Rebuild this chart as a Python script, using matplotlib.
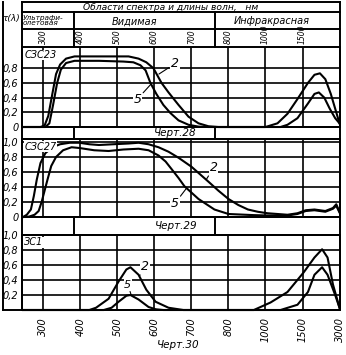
import numpy as np
import matplotlib
matplotlib.use("Agg")
import matplotlib.pyplot as plt

plt.rcParams['font.family'] = 'DejaVu Sans'
plt.rcParams['font.style'] = 'italic'

# ось длин волн (нм), шкала неравномерная
wl_ticks = [300, 400, 500, 600, 700, 800, 1000, 1500, 3000]
wl_labels = ['300', '400', '500', '600', '700', '800', '1000', '1500', '3000']

# Черт.28 - СЗС23
wl23_2 = [245, 292, 303, 313, 324, 334, 345, 361, 384, 450, 530, 557, 578, 597, 619, 638, 665, 692,
          719, 746, 773, 1000, 1162, 1297, 1432, 1721, 1985, 2206, 2426, 2647, 2824, 3000]
t23_2 = [0, 0, 0.02, 0.15, 0.45, 0.72, 0.85, 0.93, 0.96, 0.96, 0.96, 0.93, 0.88, 0.80, 0.60, 0.47, 0.30, 0.14,
         0.05, 0.01, 0, 0, 0.05, 0.18, 0.38, 0.60, 0.71, 0.73, 0.65, 0.45, 0.25, 0.05]
wl23_5 = [245, 305, 316, 326, 337, 347, 361, 384, 450, 516, 543, 562, 576, 589, 605, 624, 643, 665, 692,
          719, 746, 1203, 1297, 1432, 1721, 1985, 2162, 2382, 2603, 2824, 3000]
t23_5 = [0, 0, 0.05, 0.3, 0.6, 0.78, 0.87, 0.9, 0.9, 0.89, 0.88, 0.84, 0.77, 0.6, 0.45, 0.3, 0.19, 0.09, 0.03,
         0.005, 0, 0, 0.03, 0.12, 0.32, 0.45, 0.47, 0.4, 0.25, 0.12, 0.05]

# Черт.29 - СЗС27
wl27_2 = [245, 255, 266, 274, 282, 292, 305, 324, 345, 371, 397, 424, 450, 489, 530, 557, 584, 611, 638, 665,
          700, 746, 773, 800, 853, 905, 958, 1027, 1297, 1432, 1632, 1985, 2426, 2735, 2868, 3000]
t27_2 = [0, 0.03, 0.1, 0.28, 0.5, 0.72, 0.85, 0.93, 0.97, 0.99, 0.99, 0.97, 0.96, 0.97, 0.98, 0.99, 0.97, 0.93,
         0.87, 0.79, 0.67, 0.47, 0.35, 0.24, 0.16, 0.10, 0.07, 0.05, 0.03, 0.05, 0.09, 0.10, 0.08, 0.12, 0.17, 0.07]
wl27_5 = [245, 261, 276, 287, 295, 303, 311, 321, 334, 353, 376, 397, 437, 476, 516, 557, 584, 611, 630, 646,
          665, 681, 719, 762, 800, 937, 1027, 1297, 1432, 1632, 1985, 2426, 2735, 2868, 3000]
t27_5 = [0, 0.005, 0.03, 0.08, 0.2, 0.35, 0.5, 0.68, 0.8, 0.89, 0.93, 0.92, 0.89, 0.88, 0.9, 0.91, 0.89, 0.82,
         0.74, 0.64, 0.52, 0.41, 0.24, 0.1, 0.04, 0.025, 0.02, 0.02, 0.04, 0.08, 0.09, 0.07, 0.11, 0.15, 0.06]

# Черт.30 - ЗС1
wl1_2 = [245, 424, 442, 476, 503, 524, 535, 557, 578, 603, 638, 678, 937, 1068, 1297, 1544, 1985, 2294,
         2515, 2735, 3000]
t1_2 = [0, 0, 0.03, 0.15, 0.38, 0.54, 0.57, 0.47, 0.27, 0.11, 0.03, 0, 0, 0.1, 0.24, 0.5, 0.7, 0.81,
        0.7, 0.34, 0.03]
wl1_5 = [245, 463, 484, 503, 524, 535, 557, 584, 603, 624, 1203, 1432, 1721, 1985, 2294, 2515, 2824, 3000]
t1_5 = [0, 0, 0.03, 0.11, 0.19, 0.2, 0.14, 0.04, 0.01, 0, 0, 0.07, 0.24, 0.47, 0.57, 0.47, 0.2, 0.03]

W, H = 346, 355
fig = plt.figure(figsize=(W / 100, H / 100), dpi=100)
LW = 1.4


def rect(x0, y0, x1, y1):
    # пиксели -> доли фигуры
    return [x0 / W, 1 - y1 / H, (x1 - x0) / W, (y1 - y0) / H]


_sw = [200, 300, 400, 500, 600, 700, 800, 1000, 1500, 3000, 4500]
_si = [-1, 0, 1, 2, 3, 4, 5, 6, 7, 8, 9]


def fwd(x):
    return np.interp(x, _sw, _si)


def inv(x):
    return np.interp(x, _si, _sw)


# рамка таблицы
ax0 = fig.add_axes([0, 0, 1, 1])
ax0.set_xlim(0, W)
ax0.set_ylim(H, 0)
ax0.axis('off')
for y, x0, x1 in [(2, 22, 340), (12, 22, 340), (29, 22, 340), (127, 22, 340), (139, 22, 340),
                  (217, 22, 340), (235, 22, 340), (310, 3, 340)]:
    ax0.plot([x0, x1], [y, y], color='k', lw=LW)
for x, y0, y1 in [(3, 2, 310), (22, 2, 310), (340, 2, 310), (74, 12, 47), (215, 12, 47),
                  (74, 127, 139), (215, 127, 139), (74, 217, 235), (215, 217, 235)]:
    ax0.plot([x, x], [y0, y1], color='k', lw=LW)

ax0.text(171, 10, 'Области спектра и длины волн,   нм', ha='center', va='baseline', fontsize=6.6)
ax0.text(23, 20.5, 'Ультрафи-\nолетовая', ha='left', va='center', fontsize=5.3, linespacing=0.85)
ax0.text(134, 24.5, 'Видимая', ha='center', va='baseline', fontsize=7)
ax0.text(272, 24.5, 'Инфракрасная', ha='center', va='baseline', fontsize=7)
ax0.text(11.5, 18, 'τ(λ)', ha='center', va='center', fontsize=6.5)
ax0.text(175, 133, 'Черт.28', ha='center', va='center', fontsize=7.5)
ax0.text(176, 226, 'Черт.29', ha='center', va='center', fontsize=7.5)
ax0.text(178, 345, 'Черт.30', ha='center', va='center', fontsize=7.5)

panels = [
    ((47, 127), 1.088, [0, 0.2, 0.4, 0.6, 0.8], ['0', '0,2', '0,4', '0,6', '0,8'],
     (wl23_2, t23_2), (wl23_5, t23_5), 'СЗС23'),
    ((139, 217), 1.04, [0, 0.2, 0.4, 0.6, 0.8, 1.0], ['0', '0,2', '0,4', '0,6', '0,8', '1,0'],
     (wl27_2, t27_2), (wl27_5, t27_5), 'СЗС27'),
    ((235, 310), 1.0, [0.2, 0.4, 0.6, 0.8, 1.0], ['0,2', '0,4', '0,6', '0,8', '1,0'],
     (wl1_2, t1_2), (wl1_5, t1_5), 'ЗС1'),
]

axes = []
for (ytop, ybot), ymax, yt, ylab, c2, c5, name in panels:
    ax = fig.add_axes(rect(22, ytop, 340, ybot))
    ax.set_facecolor('none')
    ax.set_xscale('function', functions=(fwd, inv))
    ax.set_xlim(242, 3020)
    ax.set_ylim(0, ymax)
    ax.set_xticks(wl_ticks)
    ax.set_yticks(yt)
    ax.set_yticklabels(ylab)
    ax.grid(True, color='k', lw=1.2)
    ax.set_axisbelow(True)
    ax.tick_params(length=0, labelsize=7)
    ax.tick_params(axis='y', pad=2.5)
    for s in ax.spines.values():
        s.set_linewidth(LW)
    ax.plot(c2[0], c2[1], color='k', lw=1.5, solid_joinstyle='round', clip_on=False)
    ax.plot(c5[0], c5[1], color='k', lw=1.5, solid_joinstyle='round', clip_on=False)
    ax.text(0.007, 0.9, name, transform=ax.transAxes, ha='left', va='center', fontsize=7,
            bbox=dict(facecolor='white', edgecolor='none', pad=0.3))
    axes.append(ax)

ax1, ax2, ax3 = axes
ax1.tick_params(axis='x', top=True, labeltop=True, bottom=False, labelbottom=False,
                labelrotation=90, pad=2, labelsize=5.5)
ax1.set_xticklabels(wl_labels[:-1] + [''])
ax2.set_xticklabels([])
ax3.set_xticklabels(wl_labels)
ax3.tick_params(axis='x', labelrotation=90, pad=5, labelsize=7)

arr = dict(arrowstyle='-', lw=0.8, color='k', shrinkA=1, shrinkB=0)
bb = dict(facecolor='white', edgecolor='none', pad=0.5)
ax1.annotate('2', xy=(612, 0.72), xytext=(655, 0.86), fontsize=9, ha='center', va='center',
             arrowprops=arr, bbox=bb)
ax1.annotate('5', xy=(590, 0.58), xytext=(554, 0.38), fontsize=9, ha='center', va='center',
             arrowprops=arr, bbox=bb)
ax2.annotate('2', xy=(740, 0.5), xytext=(760, 0.66), fontsize=9, ha='center', va='center',
             arrowprops=arr, bbox=bb)
ax2.annotate('5', xy=(686, 0.38), xytext=(655, 0.18), fontsize=9, ha='center', va='center',
             arrowprops=arr, bbox=bb)
ax3.annotate('2', xy=(559, 0.45), xytext=(575, 0.58), fontsize=9, ha='center', va='center',
             arrowprops=arr, bbox=bb)
ax3.annotate('5', xy=(537, 0.2), xytext=(528, 0.34), fontsize=8, ha='center', va='center',
             arrowprops=arr, bbox=bb)

fig.savefig('out.png', dpi=100)
